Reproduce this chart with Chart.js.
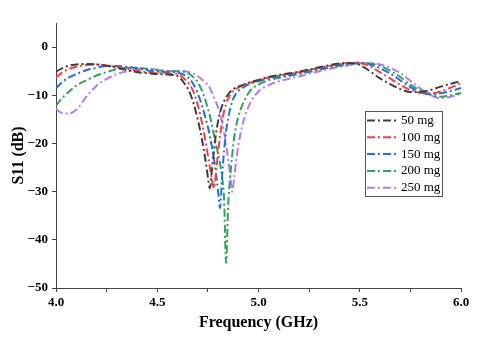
<!DOCTYPE html>
<html>
<head>
<meta charset="utf-8">
<script src="https://cdn.jsdelivr.net/npm/chart.js@4"></script>
<style>
  html, body { margin: 0; padding: 0; background: #fff; }
  #wrap { width: 480px; height: 341px; }
</style>
</head>
<body>
<div id="wrap"><canvas id="s11"></canvas></div>
<script>
// --- Données (S11 en dB) ---
const freq = [4.00, 4.03, 4.06, 4.10, 4.15, 4.20, 4.25, 4.30, 4.35, 4.40,
  4.45, 4.50, 4.55, 4.60, 4.63, 4.66, 4.68, 4.70, 4.72, 4.74,
  4.75, 4.76, 4.77, 4.78, 4.79, 4.80, 4.81, 4.82, 4.83, 4.84,
  4.85, 4.86, 4.87, 4.88, 4.89, 4.90, 4.92, 4.94, 4.96, 5.00,
  5.05, 5.10, 5.20, 5.30, 5.40, 5.45, 5.50, 5.55, 5.60, 5.65,
  5.70, 5.75, 5.80, 5.85, 5.90, 5.95, 6.00];

const s50 = [-5.1, -4.4, -3.9, -3.6, -3.5, -3.6, -3.9, -4.3, -4.8, -5.2,
  -5.4, -5.6, -5.7, -6.0, -7.3, -9.4, -11.8, -15.0, -19.0, -24.0,
  -27.0, -29.3, -25.5, -21.5, -18.0, -15.5, -13.6, -12.2, -11.2, -10.4,
  -9.8, -9.3, -8.9, -8.6, -8.4, -8.2, -7.9, -7.6, -7.3, -6.8,
  -6.2, -5.8, -5.1, -4.2, -3.4, -3.3, -3.7, -5.0, -6.5, -7.7,
  -8.7, -9.3, -9.3, -8.9, -8.2, -7.6, -7.1];

const s100 = [-6.3, -5.3, -4.6, -4.1, -3.7, -3.6, -3.8, -4.1, -4.5, -4.9,
  -5.2, -5.4, -5.5, -5.6, -6.4, -7.8, -9.4, -12.0, -15.5, -20.0,
  -22.5, -25.0, -27.5, -29.3, -26.0, -22.0, -18.5, -15.5, -13.3, -11.8,
  -10.7, -9.9, -9.3, -8.9, -8.6, -8.4, -8.0, -7.7, -7.4, -6.9,
  -6.3, -5.9, -5.2, -4.3, -3.5, -3.3, -3.3, -4.0, -5.2, -6.5,
  -7.8, -8.9, -9.5, -9.6, -9.2, -8.4, -7.5];

const s150 = [-8.5, -7.3, -6.4, -5.6, -4.8, -4.3, -3.9, -3.9, -4.1, -4.4,
  -4.8, -5.1, -5.2, -5.3, -5.7, -6.6, -7.8, -9.6, -12.0, -15.0,
  -16.6, -18.5, -20.7, -23.2, -26.2, -29.8, -33.4, -27.0, -21.5, -17.5,
  -14.8, -12.8, -11.3, -10.3, -9.6, -9.1, -8.5, -8.0, -7.6, -7.1,
  -6.5, -6.1, -5.4, -4.5, -3.7, -3.4, -3.2, -3.6, -4.4, -5.5,
  -6.9, -8.3, -9.4, -9.8, -9.6, -9.1, -8.5];

const s200 = [-12.2, -10.6, -9.4, -8.0, -6.9, -5.9, -5.2, -4.6, -4.3, -4.3,
  -4.5, -4.8, -5.0, -5.0, -5.1, -5.6, -6.3, -7.3, -9.0, -11.3,
  -12.8, -14.3, -16.2, -18.2, -20.2, -22.0, -24.2, -27.0, -31.5, -44.8,
  -33.0, -27.0, -22.5, -18.8, -16.3, -14.5, -12.0, -10.3, -9.0, -7.8,
  -6.9, -6.4, -5.6, -4.7, -3.9, -3.5, -3.3, -3.4, -3.9, -4.9,
  -6.2, -7.8, -9.0, -9.9, -10.3, -10.0, -9.5];

const s250 = [-12.8, -13.7, -13.8, -13.0, -10.3, -8.0, -6.6, -5.6, -5.0, -4.6,
  -4.5, -4.7, -4.9, -5.0, -5.0, -5.2, -5.5, -6.0, -6.7, -7.4,
  -7.9, -8.5, -9.4, -10.4, -11.4, -12.5, -13.8, -15.5, -17.6, -20.3,
  -23.3, -26.5, -30.0, -27.0, -23.5, -20.5, -16.3, -13.5, -11.5, -9.2,
  -7.9, -7.1, -6.1, -5.0, -4.1, -3.7, -3.4, -3.3, -3.6, -4.3,
  -5.4, -7.0, -8.6, -10.0, -10.6, -10.3, -9.7];

const labels = ['50 mg', '100 mg', '150 mg', '200 mg', '250 mg'];
const colors = ['#404040', '#ff3c3c', '#1f6fe6', '#2ea35a', '#b47cf0'];
const series = [s50, s100, s150, s200, s250];

const serif = '"Liberation Serif", "Times New Roman", serif';
const fmtNum = (n) => (n < 0 ? '\u2212' + Math.abs(n) : String(n));

// --- Légende encadrée dans la zone du graphe ---
const boxLegend = {
  id: 'boxLegend',
  afterDatasetsDraw(chart) {
    const ctx = chart.ctx;
    const x0 = 365, y0 = 111, w = 77, h = 85, row = 16.8;
    ctx.save();
    ctx.fillStyle = '#fff';
    ctx.fillRect(x0, y0, w, h);
    ctx.strokeStyle = '#555';
    ctx.lineWidth = 1;
    ctx.strokeRect(x0 + 0.5, y0 + 0.5, w, h);
    chart.data.datasets.forEach((ds, i) => {
      const y = y0 + 9.5 + i * row;
      ctx.strokeStyle = ds.borderColor;
      ctx.lineWidth = 2;
      ctx.setLineDash(ds.borderDash);
      ctx.beginPath();
      ctx.moveTo(367, y);
      ctx.lineTo(398, y);
      ctx.stroke();
      ctx.setLineDash([]);
      ctx.fillStyle = '#000';
      ctx.font = '13px ' + serif;
      ctx.textBaseline = 'middle';
      ctx.fillText(ds.label, 401, y);
    });
    ctx.restore();
  }
};

const datasets = series.map((vals, i) => ({
  label: labels[i],
  data: vals.map((y, k) => ({ x: freq[k], y })),
  borderColor: colors[i],
  backgroundColor: colors[i],
  borderWidth: 2,
  borderDash: [8, 3, 2, 3],
  pointRadius: 0,
  cubicInterpolationMode: 'monotone',
  fill: false
}));

new Chart(document.getElementById('s11'), {
  type: 'line',
  data: { datasets },
  options: {
    responsive: true,
    maintainAspectRatio: false,
    animation: false,
    layout: { padding: { top: 23, right: 19, left: 0, bottom: 0 } },
    plugins: {
      legend: { display: false },
      tooltip: { enabled: false }
    },
    scales: {
      x: {
        type: 'linear',
        min: 4.0,
        max: 6.0,
        afterFit: (s) => { s.height = 53; },
        border: { color: '#444', width: 1 },
        grid: { drawOnChartArea: false, drawTicks: true, tickLength: 4, color: '#444' },
        ticks: {
          stepSize: 0.25,
          autoSkip: false,
          maxRotation: 0,
          padding: 3,
          color: '#000',
          font: { family: serif, size: 13, weight: 'bold' },
          callback: (v) => (v % 0.5 === 0 ? v.toFixed(1) : '')
        },
        title: {
          display: true,
          text: 'Frequency (GHz)',
          color: '#000',
          font: { family: serif, size: 16, weight: 'bold' },
          padding: { top: 0, bottom: 9 }
        }
      },
      y: {
        min: -50,
        max: 5,
        afterFit: (s) => { s.width = 56; },
        afterBuildTicks: (s) => { s.ticks = s.ticks.filter(t => t.value % 10 === 0); },
        border: { color: '#444', width: 1 },
        grid: { drawOnChartArea: false, drawTicks: true, tickLength: 4, color: '#444' },
        ticks: {
          stepSize: 10,
          padding: 4,
          color: '#000',
          font: { family: serif, size: 13, weight: 'bold' },
          callback: (v) => fmtNum(v)
        },
        title: {
          display: true,
          text: 'S11 (dB)',
          color: '#000',
          font: { family: serif, size: 16, weight: 'bold' },
          padding: { top: 9, bottom: 0 }
        }
      }
    }
  },
  plugins: [boxLegend]
});
</script>
</body>
</html>
